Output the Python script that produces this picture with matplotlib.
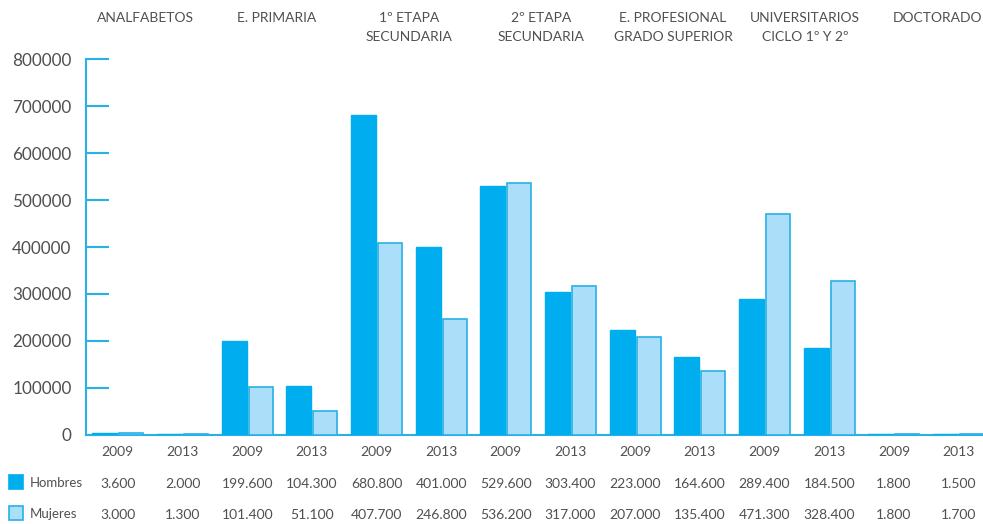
import matplotlib
matplotlib.use("Agg")
import matplotlib.pyplot as plt
from matplotlib.transforms import blended_transform_factory
from matplotlib.patches import Rectangle

categories = ["ANALFABETOS", "E. PRIMARIA", "1º ETAPA\nSECUNDARIA", "2º ETAPA\nSECUNDARIA",
              "E. PROFESIONAL\nGRADO SUPERIOR", "UNIVERSITARIOS\nCICLO 1º Y 2º", "DOCTORADO"]
years = ["2009", "2013"]
hombres = [3600, 2000, 199600, 104300, 680800, 401000, 529600, 303400,
           223000, 164600, 289400, 184500, 1800, 1500]
mujeres = [3000, 1300, 101400, 51100, 407700, 246800, 536200, 317000,
           207000, 135400, 471300, 328400, 1800, 1700]
series_names = ["Hombres", "Mujeres"]

C_H = "#00AEEF"
C_M = "#ABDFF9"
C_LINE = "#29B0E6"
C_TXT = "#505050"

plt.rcParams['font.family'] = ['Lato', 'DejaVu Sans']

W, H = 983, 524
fig = plt.figure(figsize=(W / 100, H / 100), dpi=100)
left = 85.5 / W
bottom = (H - 434.5) / H
top = (H - 59.5) / H
n = len(hombres)
gw = 64.67
ax = fig.add_axes([left, bottom, n * gw / W, top - bottom])

x = list(range(n))
ax.bar([i - 0.2 for i in x], hombres, width=0.385, color=C_H, edgecolor=C_H, linewidth=1.0, zorder=4)
ax.bar([i + 0.21 for i in x], mujeres, width=0.37, color=C_M, edgecolor=C_LINE, linewidth=1.2, zorder=4)

ax.set_xlim(-0.5, n - 0.5)
ax.set_ylim(0, 800000)
ax.set_yticks(range(0, 800001, 100000))
ax.set_yticklabels([str(v) for v in range(0, 800001, 100000)], fontsize=12.3, color=C_TXT)
ax.tick_params(axis='y', direction='in', length=16.5, width=1.5, color=C_LINE, pad=10)
ax.set_xticks([])
for s in ["top", "right"]:
    ax.spines[s].set_visible(False)
ax.spines["left"].set_color(C_LINE)
ax.spines["left"].set_linewidth(1.5)
ax.spines["bottom"].set_color(C_LINE)
ax.spines["bottom"].set_linewidth(1.5)
ax.spines["bottom"].set_zorder(3)

# category labels at top
for i, c in enumerate(categories):
    fig.text((145 + 132 * i) / W, (H - 12) / H, c, ha="center", va="top",
             fontsize=10, color=C_TXT, linespacing=1.7)

tr = blended_transform_factory(ax.transData, fig.transFigure)
def fmt(v):
    return f"{v:,}".replace(",", ".")
for i in x:
    ax.text(i, (H - 452) / H, years[i % 2], transform=tr, ha="center", va="center", fontsize=10, color=C_TXT)
    ax.text(i, (H - 484) / H, fmt(hombres[i]), transform=tr, ha="center", va="center", fontsize=10, color=C_TXT)
    ax.text(i, (H - 515) / H, fmt(mujeres[i]), transform=tr, ha="center", va="center", fontsize=10, color=C_TXT)

# legend
for yc, name, fc, ec in [(482, series_names[0], C_H, C_H), (513, series_names[1], C_M, C_LINE)]:
    fig.patches.append(Rectangle((8.5 / W, (H - yc - 7) / H), 14 / W, 14 / H,
                                 transform=fig.transFigure, facecolor=fc, edgecolor=ec, linewidth=1.2))
    fig.text(30 / W, (H - yc - 1) / H, name, ha="left", va="center", fontsize=9.5, color=C_TXT)

fig.savefig("out.png", dpi=100)
